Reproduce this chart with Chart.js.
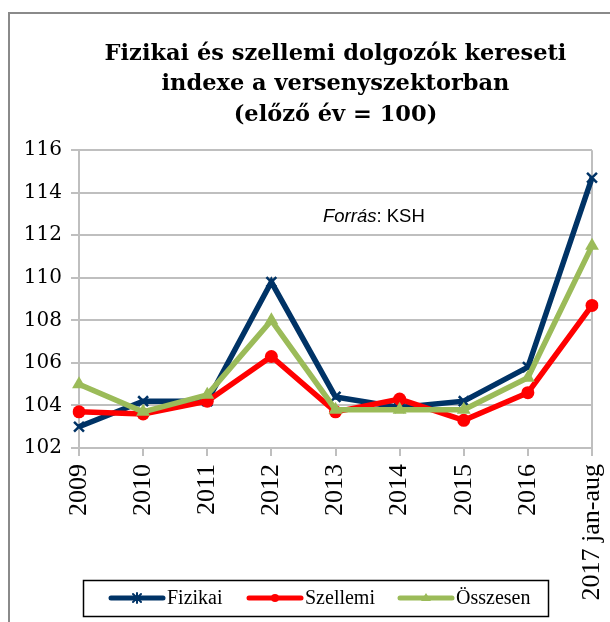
<!DOCTYPE html>
<html>
<head>
<meta charset="utf-8">
<script src="https://cdn.jsdelivr.net/npm/chart.js@4.4.0/dist/chart.umd.min.js"></script>
<style>
  html, body { margin: 0; padding: 0; background: #fff; }
  #wrap { position: relative; width: 610px; height: 622px; overflow: hidden; }
  #frame { position: absolute; left: 8px; top: 12px; width: 700px; height: 700px;
           border-left: 2px solid #8a8a8a; border-top: 2px solid #8a8a8a; pointer-events: none; }
  canvas { position: absolute; left: 0; top: 0; }
</style>
</head>
<body>
<div id="wrap">
  <div id="frame"></div>
  <canvas id="c" width="610" height="622"></canvas>
</div>
<script>
const titleLines = ['Fizikai és szellemi dolgozók kereseti', 'indexe a versenyszektorban', '(előző év = 100)'];
const categories = ['2009', '2010', '2011', '2012', '2013', '2014', '2015', '2016', '2017 jan-aug'];
const fizikai  = [103.0, 104.2, 104.2, 109.8, 104.4, 103.9, 104.2, 105.8, 114.7];
const szellemi = [103.7, 103.6, 104.2, 106.3, 103.7, 104.3, 103.3, 104.6, 108.7];
const osszesen = [105.0, 103.7, 104.5, 108.0, 103.8, 103.8, 103.8, 105.3, 111.5];
const seriesNames = ['Fizikai', 'Szellemi', 'Összesen'];
const yTicks = [102, 104, 106, 108, 110, 112, 114, 116];
const sourceNote = ['Forrás', ': KSH'];

const NAVY = '#003366', RED = '#ff0000', GREEN = '#9bbb59', GRID = '#bfbfbf';

const legendPlugin = {
  id: 'customLegend',
  afterDraw(chart) {
    const ctx = chart.ctx;
    ctx.save();
    ctx.strokeStyle = '#000';
    ctx.lineWidth = 1.5;
    ctx.strokeRect(83.5, 580.5, 465, 36);
    const items = [
      { x: 109, ds: 0 },
      { x: 247, ds: 1 },
      { x: 398, ds: 2 }
    ];
    const cy = 598;
    ctx.font = '20px "Liberation Serif"';
    ctx.textBaseline = 'middle';
    ctx.textAlign = 'left';
    items.forEach(it => {
      const ds = chart.data.datasets[it.ds];
      ctx.strokeStyle = ds.borderColor;
      ctx.lineWidth = 5;
      ctx.lineCap = 'round';
      ctx.beginPath();
      ctx.moveTo(it.x + 2, cy);
      ctx.lineTo(it.x + 54, cy);
      ctx.stroke();
      ctx.fillStyle = ds.borderColor;
      ctx.strokeStyle = ds.borderColor;
      ctx.lineWidth = 2;
      ctx.beginPath();
      if (ds.pointStyle === 'circle') {
        ctx.arc(it.x + 28, cy, 4, 0, Math.PI * 2); ctx.fill();
      } else if (ds.pointStyle === 'triangle') {
        ctx.moveTo(it.x + 28, cy - 5); ctx.lineTo(it.x + 33, cy + 3); ctx.lineTo(it.x + 23, cy + 3); ctx.closePath(); ctx.fill();
      } else {
        ctx.moveTo(it.x + 24, cy - 4); ctx.lineTo(it.x + 32, cy + 4);
        ctx.moveTo(it.x + 32, cy - 4); ctx.lineTo(it.x + 24, cy + 4);
        ctx.moveTo(it.x + 28, cy - 5); ctx.lineTo(it.x + 28, cy + 5);
        ctx.stroke();
      }
      ctx.fillStyle = '#000';
      ctx.fillText(ds.label, it.x + 58, cy + 1);
    });
    ctx.fillStyle = '#000';
    ctx.textBaseline = 'middle';
    ctx.font = 'italic 18.5px "Liberation Sans"';
    const nx = 323, ny = 217;
    ctx.fillText(sourceNote[0], nx, ny);
    const w = ctx.measureText(sourceNote[0]).width;
    ctx.font = '18.5px "Liberation Sans"';
    ctx.fillText(sourceNote[1], nx + w, ny);
    ctx.restore();
  }
};

new Chart(document.getElementById('c'), {
  type: 'line',
  data: {
    labels: categories,
    datasets: [
      { label: seriesNames[0], data: fizikai, borderColor: NAVY, backgroundColor: NAVY,
        borderWidth: 5.5, pointStyle: 'crossRot', pointRadius: 7, pointBorderWidth: 2.5,
        pointBorderColor: NAVY, order: 3, tension: 0 },
      { label: seriesNames[1], data: szellemi, borderColor: RED, backgroundColor: RED,
        borderWidth: 5.5, pointStyle: 'circle', pointRadius: 6.5, pointBorderWidth: 0,
        pointBackgroundColor: RED, order: 2, tension: 0 },
      { label: seriesNames[2], data: osszesen, borderColor: GREEN, backgroundColor: GREEN,
        borderWidth: 5.5, pointStyle: 'triangle', pointRadius: 8, pointBorderWidth: 0,
        pointBackgroundColor: GREEN, order: 1, tension: 0 }
    ]
  },
  options: {
    responsive: false,
    animation: false,
    devicePixelRatio: 1,
    layout: { padding: { left: 10, right: 18, top: 13, bottom: 0 } },
    plugins: {
      legend: { display: false },
      tooltip: { enabled: false },
      title: {
        display: true,
        fullSize: false,
        text: titleLines,
        color: '#000',
        font: { family: '"DejaVu Serif"', size: 22.5, weight: 'bold', lineHeight: 1.35 },
        padding: { top: 26, bottom: 20 }
      }
    },
    scales: {
      x: {
        offset: false,
        grid: {
          color: c => (c.index === categories.length - 1 ? GRID : 'rgba(0,0,0,0)'),
          tickColor: GRID, lineWidth: 2, tickLength: 8, drawOnChartArea: true
        },
        border: { color: GRID, width: 2 },
        ticks: { color: '#000', font: { family: '"Liberation Serif"', size: 26 },
                 minRotation: 90, maxRotation: 90, padding: 8, autoSkip: false },
        afterFit: s => { s.height = 174; s.paddingLeft = 0; s.paddingRight = 0; }
      },
      y: {
        min: 102, max: 116,
        afterBuildTicks: s => { s.ticks = yTicks.map(v => ({ value: v })); },
        grid: { color: GRID, lineWidth: 2, tickLength: 8, tickColor: GRID },
        border: { color: GRID, width: 2 },
        ticks: { color: '#000', font: { family: '"DejaVu Serif"', size: 20 }, padding: 9 },
        afterFit: s => { s.width = 69; s.paddingTop = 0; s.paddingBottom = 0; }
      }
    }
  },
  plugins: [legendPlugin]
});
</script>
</body>
</html>
